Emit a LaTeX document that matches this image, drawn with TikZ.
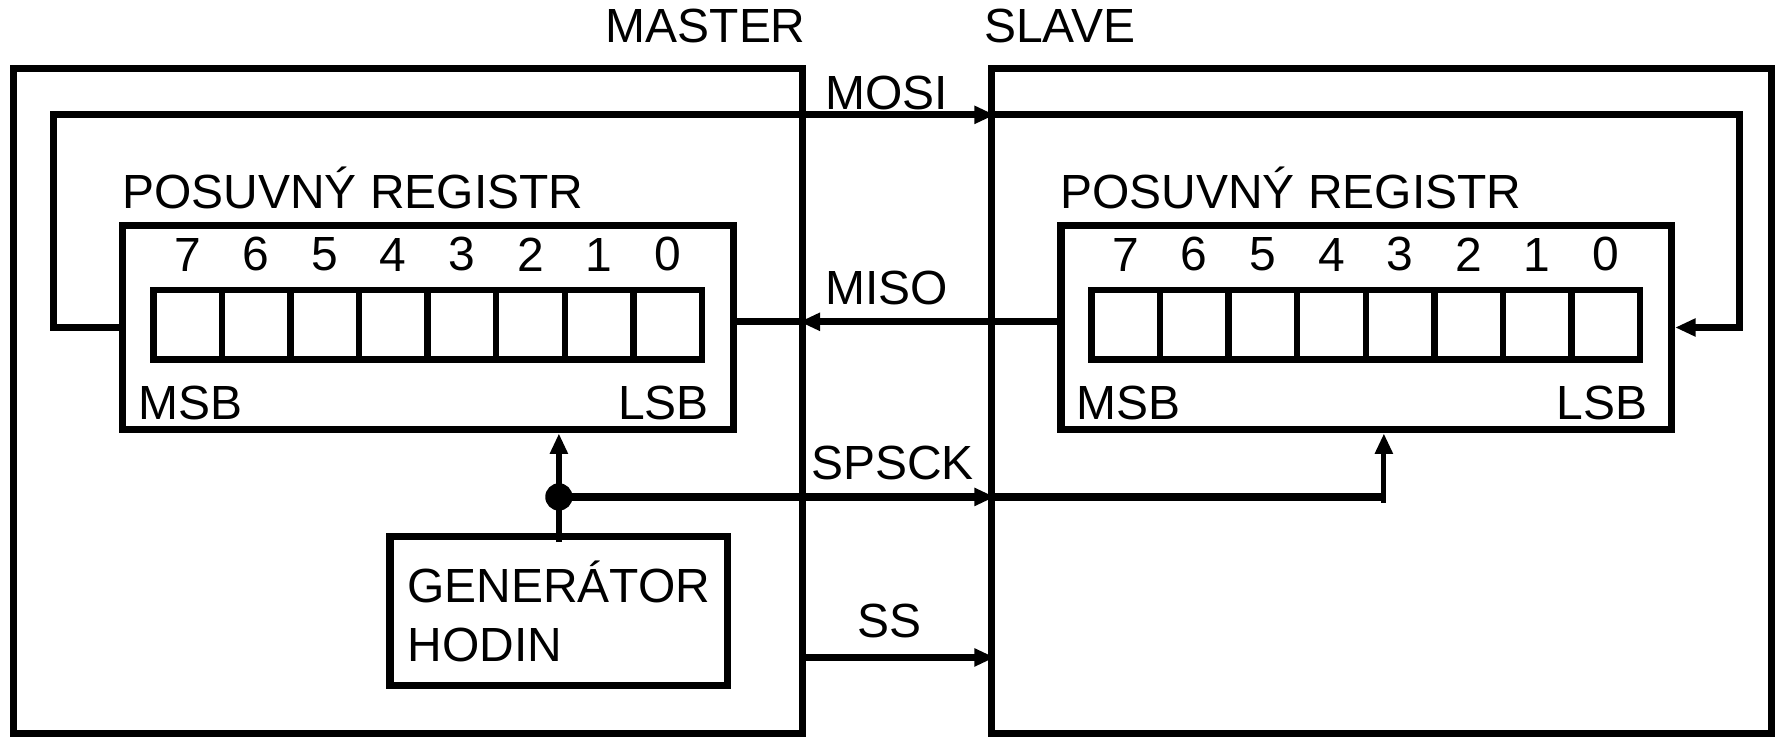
\documentclass[tikz,border=0pt]{standalone}
\usepackage{fontspec}
\setmainfont{Liberation Sans}
\usetikzlibrary{arrows.meta, positioning, calc}

\begin{document}
\begin{tikzpicture}[
  blk/.style={rectangle, draw, line width=1.8pt, inner sep=0pt},
  cell/.style={rectangle, draw, line width=1.6pt, minimum width=0.603cm,
               minimum height=0.61cm, inner sep=0pt},
  txt/.style={inner sep=0pt, font=\fontsize{12}{14.7}\selectfont},
  sig/.style={draw, line width=1.8pt},
  arr/.style={-{Triangle[length=0.18cm, width=0.15cm]}},
  edgearr/.style={arr, shorten >=-0.06cm}
]
\useasboundingbox (0,0) rectangle (15.68,6.49);

%% master a slave
\node[blk, minimum width=6.94cm, minimum height=5.85cm] (master) at (3.59, 2.965) {};
\node[blk, minimum width=6.86cm, minimum height=5.85cm] (slave)  at (12.15, 2.965) {};
\node[txt, anchor=south east] (lmaster) at ([yshift=0.18cm]master.north east) {MASTER};
\node[txt, anchor=south west] (lslave)  at ([xshift=-0.04cm, yshift=0.18cm]slave.north west) {SLAVE};

%% posuvne registry
\node[blk, minimum width=5.37cm, minimum height=1.80cm] (mreg) at (3.765, 3.61) {};
\node[blk, minimum width=5.37cm, minimum height=1.80cm] (sreg) at (12.015, 3.61) {};

\foreach \r in {m, s} {
  \foreach \b [count=\i from 0] in {7,...,0} {
    \node[cell] (\r c\b) at ($(\r reg.west)+(0.6015+0.603*\i, 0.025)$) {};
    \node[txt, above=0.13cm of \r c\b] (\r n\b) {\b};
  }
  \node[txt, anchor=south west] (\r title) at ([xshift=0.02cm, yshift=0.10cm]\r reg.north west) {POSUVNÝ REGISTR};
  \node[txt, anchor=south west] (\r msb) at ([xshift=0.16cm, yshift=0.11cm]\r reg.south west) {MSB};
  \node[txt, anchor=south east] (\r lsb) at ([xshift=-0.24cm, yshift=0.11cm]\r reg.south east) {LSB};
}

%% generator hodin
\node[blk, txt, minimum width=2.97cm, minimum height=1.31cm, align=left] (gen) at (4.915, 1.115) {GENERÁTOR\\HODIN};

%% MOSI
\coordinate (mosiL) at (0.47, 5.48);
\coordinate (mosiR) at (15.30, 5.48);
\draw[sig, edgearr] (mreg.west) -| (mosiL) -- (mosiL -| slave.west);
\draw[sig, arr] (mosiL -| slave.west) -- (mosiR) |- (sreg.east);
\node[txt] (lmosi) at (7.80, 5.67) {MOSI};

%% MISO
\coordinate (misoR) at ($(sreg.west)+(0,0.05)$);
\draw[sig, edgearr] (misoR) -- (misoR -| master.east);
\draw[sig] (misoR -| master.east) -- (misoR -| mreg.east);
\node[txt] (lmiso) at (7.80, 3.96) {MISO};

%% SPSCK
\coordinate (dot)  at (gen.north |- 0,2.12);
\coordinate (sclk) at (12.17, 2.12);
\draw[sig, line width=1.3pt, arr] ([yshift=-0.08cm]gen.north) -- (gen.north |- mreg.south);
\fill (dot) circle (0.12);
\draw[sig, edgearr] (dot) -- (dot -| slave.west);
\draw[sig] (dot -| slave.west) -- (sclk);
\draw[sig, line width=1.3pt, arr] ([yshift=-0.05cm]sclk) -- (sclk |- sreg.south);
\node[txt] (lspsck) at (7.85, 2.42) {SPSCK};

%% SS
\draw[sig, edgearr] ([yshift=0.70cm]master.south east) -- ([yshift=0.70cm]slave.south west);
\node[txt] (lss) at (7.82, 1.03) {SS};

\end{tikzpicture}
\end{document}
